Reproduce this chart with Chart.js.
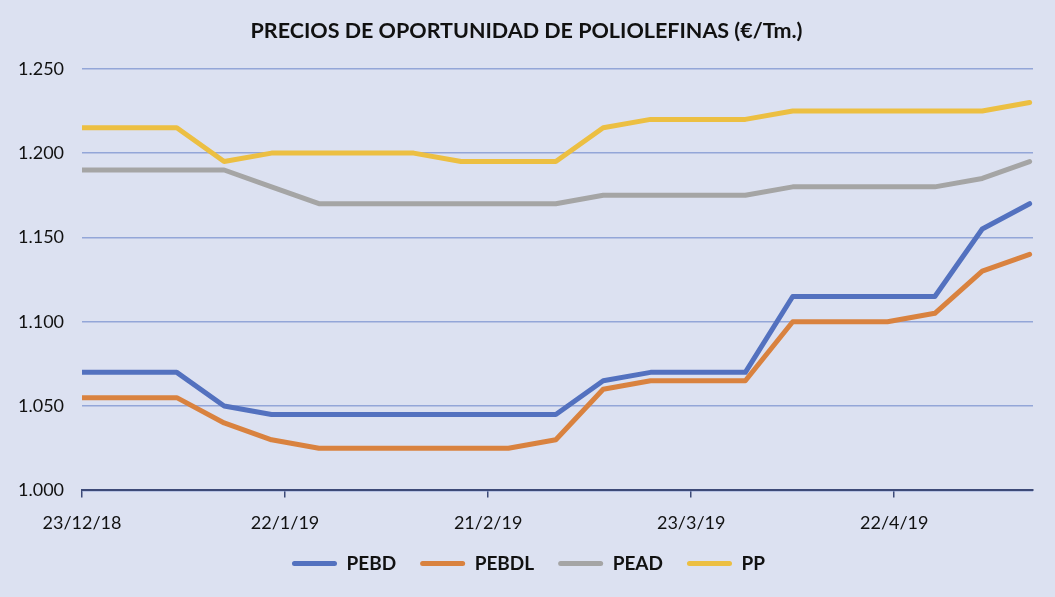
<!DOCTYPE html>
<html>
<head>
<meta charset="utf-8">
<script src="https://cdn.jsdelivr.net/npm/chart.js@4"></script>
<style>
  html, body { margin: 0; padding: 0; background: #dce1f1; }
  #wrap { width: 1055px; height: 597px; position: relative; }
</style>
</head>
<body>
<div id="wrap"><canvas id="c" width="1055" height="597"></canvas></div>
<script>
// Days since 23/12/18 (weekly observations)
const days = [0, 7, 14, 21, 28, 35, 42, 49, 56, 63, 70, 77, 84, 91, 98, 105, 112, 119, 126, 133, 140];
const PEBD  = [1070, 1070, 1070, 1050, 1045, 1045, 1045, 1045, 1045, 1045, 1045, 1065, 1070, 1070, 1070, 1115, 1115, 1115, 1115, 1155, 1170];
const PEBDL = [1055, 1055, 1055, 1040, 1030, 1025, 1025, 1025, 1025, 1025, 1030, 1060, 1065, 1065, 1065, 1100, 1100, 1100, 1105, 1130, 1140];
const PEAD  = [1190, 1190, 1190, 1190, 1180, 1170, 1170, 1170, 1170, 1170, 1170, 1175, 1175, 1175, 1175, 1180, 1180, 1180, 1180, 1185, 1195];
const PP    = [1215, 1215, 1215, 1195, 1200, 1200, 1200, 1200, 1195, 1195, 1195, 1215, 1220, 1220, 1220, 1225, 1225, 1225, 1225, 1225, 1230];
const tickDays = [0, 30, 60, 90, 120];
const tickLabels = ['23/12/18', '22/1/19', '21/2/19', '23/3/19', '22/4/19'];
const seriesNames = ['PEBD', 'PEBDL', 'PEAD', 'PP'];
const seriesColors = ['#5371bf', '#d9823f', '#a5a5a5', '#ecbf42'];

const seriesValues = [PEBD, PEBDL, PEAD, PP];
const datasets = seriesNames.map((n, i) => ({
  label: n,
  data: days.map((d, j) => ({ x: d, y: seriesValues[i][j] })),
  borderColor: seriesColors[i],
  backgroundColor: seriesColors[i],
  borderWidth: 5,
  pointRadius: 0,
  tension: 0,
  borderCapStyle: 'round',
  borderJoinStyle: 'round'
}));

const FONT = 'Lato, "Open Sans", sans-serif';

const blockShift = {
  id: 'blockShift',
  afterLayout(chart) {
    if (chart.legend) { chart.legend.left += 12; chart.legend.right += 12; }
    if (chart.titleBlock) { chart.titleBlock.left += 10; chart.titleBlock.right += 10; }
  }
};

new Chart(document.getElementById('c'), {
  type: 'line',
  data: { datasets },
  plugins: [blockShift],
  options: {
    responsive: false,
    animation: false,
    layout: { padding: { left: 0, right: 22, top: 12, bottom: 14 } },
    plugins: {
      title: {
        display: true,
        text: 'PRECIOS DE OPORTUNIDAD DE POLIOLEFINAS (€/Tm.)',
        color: '#111',
        font: { family: FONT, size: 21.5, weight: 'bold' },
        padding: { top: 6, bottom: 25 }
      },
      legend: {
        position: 'bottom',
        labels: {
          color: '#111',
          font: { family: FONT, size: 19, weight: 'bold' },
          boxWidth: 45,
          boxHeight: 5,
          padding: 24,
          useBorderRadius: true,
          borderRadius: 2.5,
          generateLabels: (chart) => chart.data.datasets.map((ds, i) => ({
            text: ds.label,
            fillStyle: ds.borderColor,
            strokeStyle: ds.borderColor,
            lineWidth: 0,
            fontColor: '#111',
            hidden: false,
            datasetIndex: i,
            borderRadius: 2.5
          }))
        }
      },
      tooltip: { enabled: false }
    },
    scales: {
      x: {
        type: 'linear',
        min: 0,
        max: 140.5,
        afterBuildTicks: (axis) => { axis.ticks = tickDays.map(v => ({ value: v })); },
        afterFit: (axis) => { axis.height -= 19; },
        ticks: {
          color: '#111',
          font: { family: FONT, size: 18 },
          padding: 15,
          maxRotation: 0,
          autoSkip: false,
          callback: (v) => { const k = tickDays.indexOf(v); return k >= 0 ? tickLabels[k] : ''; }
        },
        grid: { drawOnChartArea: false, drawTicks: true, tickLength: 7, color: '#3d4a78', lineWidth: 1.5 },
        border: { display: true, color: '#3d4a78', width: 2 }
      },
      y: {
        min: 1000,
        max: 1250,
        ticks: {
          stepSize: 50,
          color: '#111',
          font: { family: FONT, size: 18 },
          padding: 18,
          callback: (v) => { const s = String(Math.round(v)); return s.slice(0, s.length - 3) + '.' + s.slice(-3); }
        },
        grid: { color: '#93a6d8', lineWidth: 1.5, drawTicks: false },
        border: { display: false }
      }
    }
  }
});
</script>
</body>
</html>
